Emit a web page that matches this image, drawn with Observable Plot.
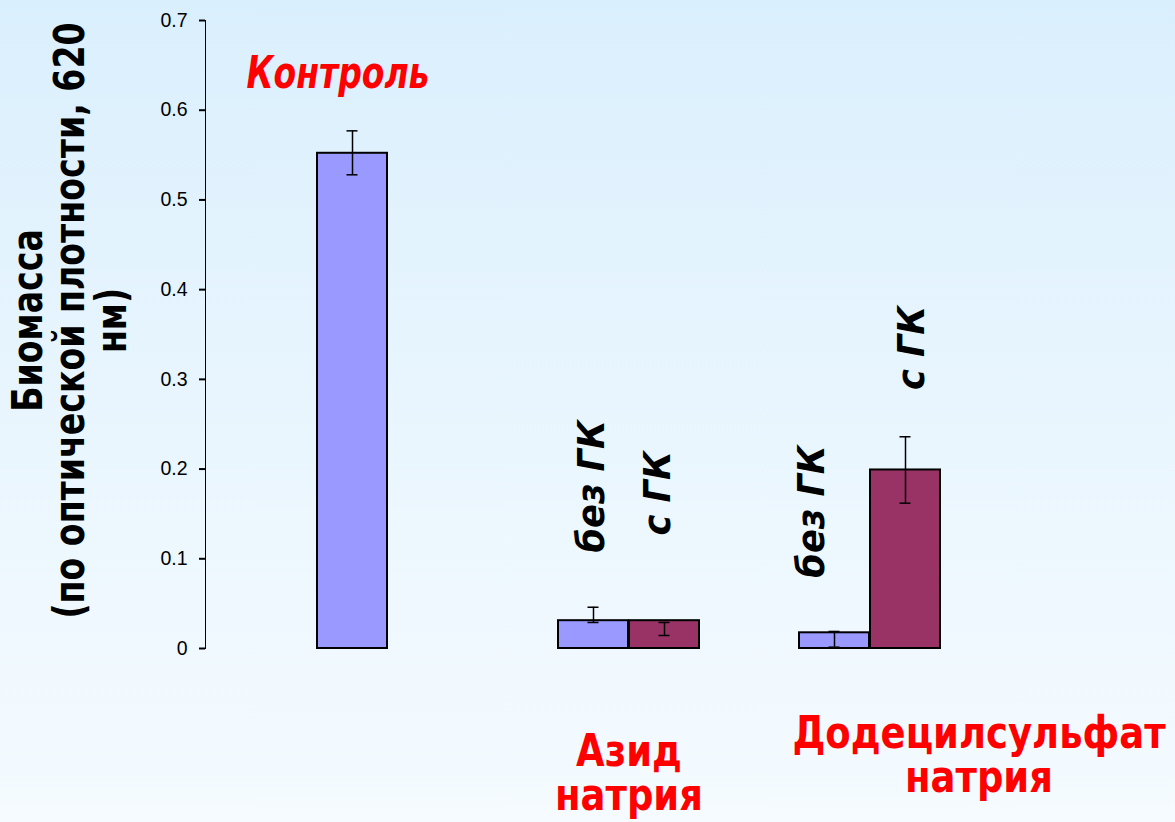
<!DOCTYPE html>
<html lang="ru">
<head>
<meta charset="utf-8">
<title>Биомасса</title>
<script src="https://cdn.jsdelivr.net/npm/d3@7"></script>
<script src="https://cdn.jsdelivr.net/npm/@observablehq/plot@0.6"></script>
<style>
  html, body { margin: 0; padding: 0; }
  body {
    width: 1175px; height: 822px; overflow: hidden;
    background: linear-gradient(to bottom, #daeffd 0%, #eaf6fe 55%, #f5fbff 100%);
  }
  #chart svg { display: block; }
</style>
</head>
<body>
<div id="chart"></div>
<script>
// Experimental groups
const groups = ["Контроль", "Азид натрия", "Додецилсульфат натрия"];
const seriesNames = ["без ГК", "с ГК"];
const seriesColors = ["#9999ff", "#993366"];

// One entry per bar
const barGroup = ["Контроль", "Азид натрия", "Азид натрия", "Додецилсульфат натрия", "Додецилсульфат натрия"];
const barSeries = ["без ГК", "без ГК", "с ГК", "без ГК", "с ГК"];
const barValue = [0.552, 0.031, 0.031, 0.0175, 0.199];
const errLow = [0.528, 0.029, 0.0145, 0.0015, 0.162];
const errHigh = [0.577, 0.046, 0.029, 0.019, 0.236];

// Y axis
const yTicks = [0, 0.1, 0.2, 0.3, 0.4, 0.5, 0.6, 0.7];
const yTickLabels = ["0", "0.1", "0.2", "0.3", "0.4", "0.5", "0.6", "0.7"];
const yTitle = "Биомасса\n(по оптической плотности, 620\nнм)";

// Annotations
const controlLabel = "Контроль";
const controlLabelY = 0.625;
const seriesLabelGroup = ["Азид натрия", "Азид натрия", "Додецилсульфат натрия", "Додецилсульфат натрия"];
const seriesLabelText = ["без ГК", "с ГК", "без ГК", "с ГК"];
const seriesLabelY = [0.107, 0.126, 0.079, 0.288];
const groupTitleGroup = ["Азид натрия", "Додецилсульфат натрия"];
const groupTitleText = ["Азид\nнатрия", "Додецилсульфат\nнатрия"];

const bars = barGroup.map((g, i) => ({
  group: g, series: barSeries[i], value: barValue[i], lo: errLow[i], hi: errHigh[i]
}));

// Layout constants
const BAND = 142;            // width of a group (two bars)
const HALF = BAND / 2;       // width of one bar
const CAP = 6;               // half-width of an error-bar cap
const bold = "'DejaVu Sans', Verdana, sans-serif";
const labelDx = [-37, 29, -58, 42];
const titleDx = [0, 109];
const titleDy = [86, 68];

const seriesMarks = seriesNames.flatMap((s, si) => {
  const data = bars.filter(d => d.series === s);
  const center = si === 0 ? HALF / 2 : BAND - HALF / 2;
  return [
    Plot.barY(data, {
      x: "group", y: "value", fill: "series",
      stroke: "#000", strokeWidth: 2,
      insetLeft: si === 0 ? 0 : HALF, insetRight: si === 0 ? HALF : 0
    }),
    Plot.ruleX(data, {x: "group", y1: "lo", y2: "hi", dx: center - BAND / 2, stroke: "#000", strokeWidth: 1.5}),
    Plot.tickY(data, {x: "group", y: "lo", stroke: "#000", strokeWidth: 1.5, insetLeft: center - CAP, insetRight: BAND - center - CAP}),
    Plot.tickY(data, {x: "group", y: "hi", stroke: "#000", strokeWidth: 1.5, insetLeft: center - CAP, insetRight: BAND - center - CAP})
  ];
});

const labelMarks = seriesLabelText.map((t, i) =>
  Plot.text([{group: seriesLabelGroup[i], y: seriesLabelY[i], text: t}], {
    x: "group", y: "y", text: "text", rotate: -90,
    textAnchor: "start", lineAnchor: "middle", dx: labelDx[i],
    fontSize: 37, fontWeight: "bold", fontStyle: "italic", fontFamily: bold, fill: "#000",
    ariaDescription: "series-label"
  })
);

const titleMarks = groupTitleText.map((t, i) =>
  Plot.text([{group: groupTitleGroup[i], text: t}], {
    x: "group", text: "text", frameAnchor: "bottom",
    dx: titleDx[i], dy: titleDy[i], textAnchor: "middle", lineAnchor: "top", lineHeight: 1.0,
    fontSize: 44, fontWeight: "bold", fontFamily: bold, fill: "#ff0000",
    ariaDescription: "group-title"
  })
);

const svg = Plot.plot({
  width: 1175,
  height: 822,
  marginLeft: 205,
  marginRight: 122,
  marginTop: 20,
  marginBottom: 174,
  style: {
    background: "transparent",
    fontFamily: "'Liberation Sans', Arial, sans-serif",
    fontSize: "19.5px",
    color: "#000",
    overflow: "visible"
  },
  x: {domain: groups, paddingInner: 0.413, paddingOuter: 0.459, axis: null},
  y: {
    domain: [0, 0.7],
    ticks: yTicks,
    tickFormat: d => yTickLabels[yTicks.findIndex(t => Math.abs(t - d) < 1e-9)],
    tickSize: 6,
    tickPadding: 12,
    line: true,
    label: null
  },
  color: {domain: seriesNames, range: seriesColors},
  marks: [
    ...seriesMarks,
    ...labelMarks,
    ...titleMarks,
    Plot.text([{group: groups[0], y: controlLabelY, text: controlLabel}], {
      x: "group", y: "y", text: "text", dx: -50,
      textAnchor: "middle", lineAnchor: "bottom",
      fontSize: 44, fontWeight: "bold", fontStyle: "italic", fontFamily: bold, fill: "#ff0000",
      ariaDescription: "control-label"
    }),
    Plot.text([yTitle], {
      frameAnchor: "left", text: d => d, rotate: -90,
      dx: -135, dy: -14, textAnchor: "middle", lineAnchor: "middle", lineHeight: 1.0,
      fontSize: 42, fontWeight: "bold", fontFamily: bold, fill: "#000",
      ariaDescription: "y-title"
    })
  ]
});

document.getElementById("chart").append(svg);

// Heavier axis line and ticks
svg.querySelectorAll('g[aria-label="frame"], g[aria-label="y-axis tick"]').forEach(g => {
  g.setAttribute("stroke-width", "2");
  g.querySelectorAll("*").forEach(el => el.setAttribute("stroke-width", "2"));
});

// Narrow the heavy face so it reads like a condensed sans
function condense(label, factor) {
  svg.querySelectorAll(`g[aria-description="${label}"] text`).forEach(t => {
    const spans = t.querySelectorAll("tspan");
    const parts = spans.length ? Array.from(spans) : [t];
    parts.forEach(p => {
      const len = p.getComputedTextLength();
      p.setAttribute("textLength", (len * factor).toFixed(1));
      p.setAttribute("lengthAdjust", "spacingAndGlyphs");
    });
  });
}
condense("y-title", 0.79);
condense("control-label", 0.75);
condense("group-title", 0.84);
condense("series-label", 0.95);
</script>
</body>
</html>
